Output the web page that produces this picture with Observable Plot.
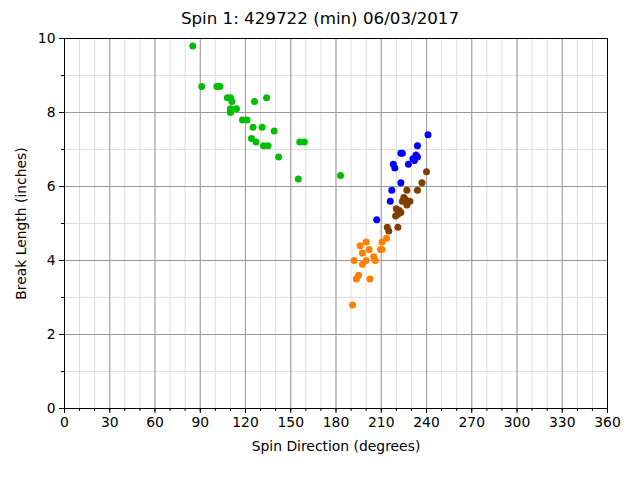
<!DOCTYPE html>
<html>
<head>
<meta charset="utf-8">
<script src="https://cdn.jsdelivr.net/npm/d3@7"></script>
<script src="https://cdn.jsdelivr.net/npm/@observablehq/plot@0.6"></script>
<style>
  html, body { margin: 0; padding: 0; background: #fff; }
  #title { height: 30px; line-height: 36px; text-align: center; font-family: "DejaVu Sans"; font-size: 16.7px; color: #000; white-space: nowrap; }
</style>
</head>
<body>
<div id="title">Spin 1: 429722 (min) 06/03/2017</div>
<div id="chart"></div>
<script>
// Green series
const greenX = [85, 91, 101, 103, 108, 110, 111, 110, 110, 114, 118, 121, 126, 134, 125, 131, 139, 124, 127, 132, 135, 142, 156, 159, 155, 183];
const greenY = [9.8, 8.7, 8.7, 8.7, 8.4, 8.4, 8.3, 8.1, 8.0, 8.1, 7.8, 7.8, 8.3, 8.4, 7.6, 7.6, 7.5, 7.3, 7.2, 7.1, 7.1, 6.8, 7.2, 7.2, 6.2, 6.3];
// Orange series
const orangeX = [213.5, 210.5, 209.5, 210.5, 200, 196, 202, 197.5, 205, 206, 192, 200, 197.5, 195, 193.5, 202.5, 191];
const orangeY = [4.6, 4.5, 4.3, 4.3, 4.5, 4.4, 4.3, 4.2, 4.1, 4.0, 4.0, 4.0, 3.9, 3.6, 3.5, 3.5, 2.8];
// Brown series
const brownX = [240, 237, 234, 227, 225, 226, 229, 224, 227, 222, 220, 221, 219.5, 223, 221, 214, 215];
const brownY = [6.4, 6.1, 5.9, 5.9, 5.7, 5.65, 5.6, 5.6, 5.5, 5.35, 5.4, 5.25, 5.2, 5.3, 4.9, 4.9, 4.8];
// Blue series
const blueX = [241, 234, 223, 224, 233, 234, 231, 232, 228, 218, 219, 223, 217, 216, 207];
const blueY = [7.4, 7.1, 6.9, 6.9, 6.85, 6.8, 6.75, 6.7, 6.6, 6.6, 6.5, 6.1, 5.9, 5.6, 5.1];

const xMajor = [0, 30, 60, 90, 120, 150, 180, 210, 240, 270, 300, 330, 360];
const xMinor = d3.range(0, 361, 10);
const yMajor = [0, 2, 4, 6, 8, 10];
const yMinor = d3.range(0, 11, 1);

const series = [
  {name: "green", color: "#00bf00", xs: greenX, ys: greenY},
  {name: "orange", color: "#ff7f00", xs: orangeX, ys: orangeY},
  {name: "brown", color: "#7f3f00", xs: brownX, ys: brownY},
  {name: "blue", color: "#0000ff", xs: blueX, ys: blueY}
];
const data = series.flatMap(s => s.xs.map((x, i) => ({x, y: s.ys[i], color: s.color})));

const plot = Plot.plot({
  width: 640,
  height: 450,
  marginTop: 8,
  marginBottom: 72,
  marginLeft: 64,
  marginRight: 33,
  style: {fontFamily: "DejaVu Sans", fontSize: "13.9px", color: "#000", background: "#fff"},
  x: {domain: [0, 360]},
  y: {domain: [0, 10]},
  marks: [
    Plot.ruleX(xMinor, {stroke: "#dddddd", strokeWidth: 1, strokeOpacity: 1}),
    Plot.ruleY(yMinor, {stroke: "#dddddd", strokeWidth: 1, strokeOpacity: 1}),
    Plot.ruleX(xMajor, {stroke: "#999999", strokeWidth: 1, strokeOpacity: 1}),
    Plot.ruleY(yMajor, {stroke: "#999999", strokeWidth: 1, strokeOpacity: 1}),
    Plot.axisX({ticks: xMinor, tickSize: 3, tickFormat: () => "", label: null, strokeOpacity: 1}),
    Plot.axisY({ticks: yMinor, tickSize: 3, tickFormat: () => "", label: null, strokeOpacity: 1}),
    Plot.axisX({ticks: xMajor, tickSize: 5, tickPadding: 4, strokeOpacity: 1,
      label: "Spin Direction (degrees)", labelAnchor: "center", labelArrow: "none", labelOffset: 42}),
    Plot.axisY({ticks: yMajor, tickSize: 5, tickPadding: 4, strokeOpacity: 1,
      label: "Break Length (inches)", labelAnchor: "center", labelArrow: "none", labelOffset: 48}),
    Plot.dot(data, {x: "x", y: "y", fill: "color", r: 3.5, stroke: null}),
    Plot.frame({stroke: "#000", strokeWidth: 1})
  ]
});
document.getElementById("chart").appendChild(plot);
</script>
</body>
</html>
